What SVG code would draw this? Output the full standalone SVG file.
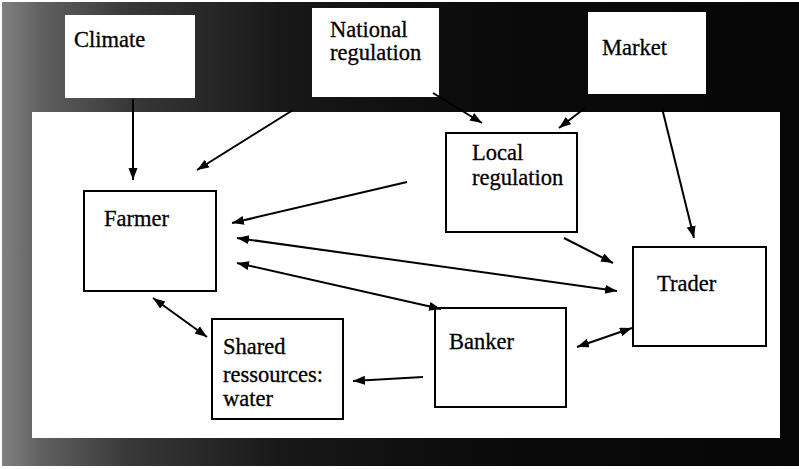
<svg xmlns="http://www.w3.org/2000/svg" width="799" height="469" viewBox="0 0 799 469">
<defs>
<linearGradient id="bg" x1="0" y1="0" x2="1" y2="0">
<stop offset="0" stop-color="#808080"/>
<stop offset="0.05" stop-color="#606060"/>
<stop offset="0.16" stop-color="#383838"/>
<stop offset="0.35" stop-color="#181818"/>
<stop offset="0.6" stop-color="#0b0b0b"/>
<stop offset="1" stop-color="#060606"/>
</linearGradient>
<marker id="ah" markerUnits="userSpaceOnUse" markerWidth="14" markerHeight="10" refX="12" refY="4.5" orient="auto-start-reverse">
<path d="M0,0 L12,4.5 L0,9 z" fill="#000"/>
</marker>
</defs>
<style>
text{font-family:'Liberation Serif','Times New Roman','DejaVu Serif',serif;font-size:22.5px;fill:#000;stroke:#000;stroke-width:0.3}
.top{fill:#fff;stroke:none}
.box{fill:#fff;stroke:#000;stroke-width:2}
.c line{stroke:#000;stroke-width:2}
.a{marker-end:url(#ah)}
.d{marker-start:url(#ah);marker-end:url(#ah)}
</style>
<rect x="0" y="0" width="799" height="469" fill="#fff"/>
<rect x="2" y="2" width="797" height="464" fill="url(#bg)"/>
<rect x="32" y="112" width="748" height="326" fill="#fff"/>

<g id="climate"><rect class="top" x="65" y="15" width="130" height="83"/><text x="74" y="47">Climate</text></g>
<g id="national"><rect class="top" x="312" y="8" width="127" height="89"/><text x="330" y="37">National</text><text x="330" y="60">regulation</text></g>
<g id="market"><rect class="top" x="588" y="12" width="118" height="82"/><text x="602" y="55">Market</text></g>
<g id="local"><rect class="box" x="446" y="133" width="131" height="99"/><text x="472" y="160">Local</text><text x="472" y="185">regulation</text></g>
<g id="farmer"><rect class="box" x="84" y="191" width="132" height="100"/><text x="104" y="226">Farmer</text></g>
<g id="trader"><rect class="box" x="633" y="247" width="133" height="99"/><text x="657" y="291">Trader</text></g>
<g id="banker"><rect class="box" x="435" y="308" width="131" height="99"/><text x="449" y="349">Banker</text></g>
<g id="shared"><rect class="box" x="212" y="319" width="131" height="100"/><text x="223" y="354">Shared</text><text x="223" y="382">ressources:</text><text x="223" y="406">water</text></g>

<g id="connectors" class="c">
<line class="a" x1="133" y1="99" x2="133" y2="180"/>
<line class="a" x1="293" y1="110" x2="197" y2="170"/>
<line class="a" x1="433" y1="93" x2="482" y2="123"/>
<line class="a" x1="585" y1="108" x2="559" y2="128"/>
<line class="a" x1="662" y1="108" x2="694" y2="238"/>
<line class="a" x1="407" y1="182" x2="232" y2="223"/>
<line class="a" x1="564" y1="238" x2="613" y2="263"/>
<line class="d" x1="237" y1="238" x2="617" y2="291"/>
<line class="d" x1="237" y1="263" x2="441" y2="309"/>
<line class="d" x1="153" y1="298" x2="207" y2="337"/>
<line class="a" x1="423" y1="377" x2="353" y2="381"/>
<line class="d" x1="577" y1="347" x2="632" y2="328"/>
</g>
</svg>
